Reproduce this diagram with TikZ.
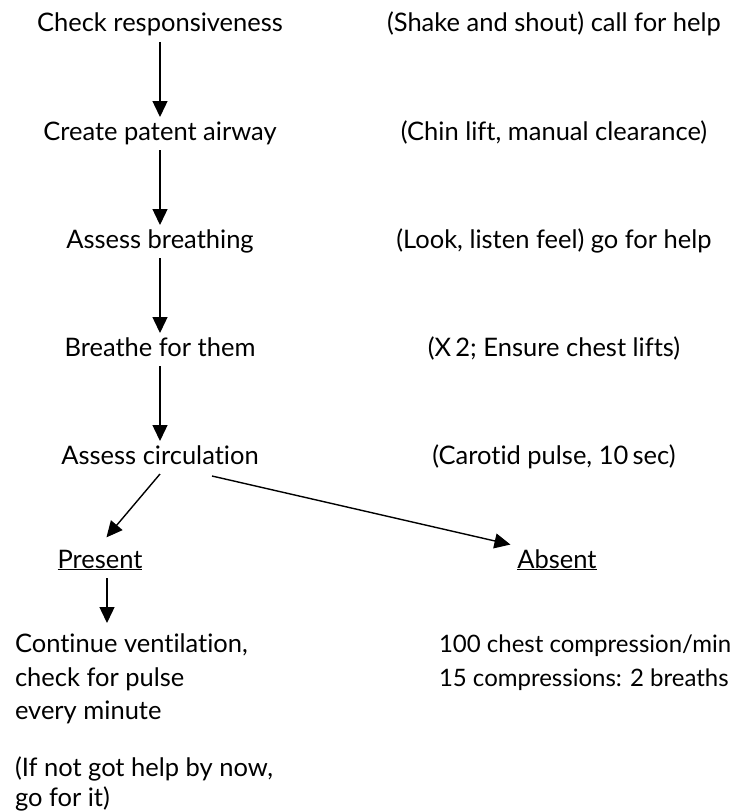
\documentclass[tikz,border=0pt]{standalone}
\usepackage{fontspec}
\setmainfont{Lato}[Ligatures=NoCommon]
\usepackage{tikz}
\usetikzlibrary{arrows.meta,calc,positioning}

\tikzset{
  steptext/.style={inner sep=0pt,outer sep=5bp,text height=18bp,text depth=5bp},
  notetext/.style={inner sep=0pt,outer sep=5bp,align=left,anchor=north west},
  flowarrow/.style={line width=1.4bp,-{Triangle[width=15bp,length=16bp]}},
}

\begin{document}
\begin{tikzpicture}[x=1bp,y=-1bp,node distance=75bp,
    font=\fontsize{25.5bp}{33.5bp}\selectfont]
  \useasboundingbox (0,0) rectangle (749,812);
  \coordinate (rcol) at (554,0);

  % main chain
  \node[steptext] (check) at (160,25.5) {Check responsiveness};
  \node[steptext,below=of check] (airway) {Create patent airway};
  \node[steptext,below=of airway] (breath) {Assess breathing};
  \node[steptext,below=of breath] (rescue) {Breathe for them};
  \node[steptext,below=of rescue] (circ) {Assess circulation};

  % notes on the right
  \node[steptext] (shake) at (check -| rcol) {(Shake and shout) call for help};
  \node[steptext] (chin) at (airway -| rcol) {(Chin lift, manual clearance)};
  \node[steptext] (look) at (breath -| rcol) {(Look, listen feel) go for help};
  \node[steptext] (twice) at (rescue -| rcol) {(X\,2; Ensure chest lifts)};
  \node[steptext] (pulse) at (circ -| rcol) {(Carotid pulse, 10\,sec)};

  % branches
  \node[steptext] (present) at (100,561.5) {\underline{Present}};
  \node[steptext] (absent) at (557,561.5) {\underline{Absent}};
  \node[notetext] (cont) at (10,629) {Continue ventilation,\\check for pulse\\every minute};
  \node[notetext,font=\fontsize{25.5bp}{30bp}\selectfont] (gohelp) at (10,752)
    {(If not got help by now,\\go for it)};
  \node[notetext,font=\fontsize{24bp}{33.5bp}\selectfont] (cpr) at (434,630)
    {100 chest compression/min\\15 compressions: 2 breaths};

  \draw[flowarrow] (check) -- (airway);
  \draw[flowarrow] (airway) -- (breath);
  \draw[flowarrow] (breath) -- (rescue);
  \draw[flowarrow] (rescue) -- (circ);
  \draw[flowarrow,shorten >=10bp] (circ.south) -- (present.north);
  \draw[flowarrow,shorten >=2bp] ([xshift=52bp,yshift=-2bp]circ.south) -- (absent.north west);
  \draw[flowarrow,shorten >=6bp] ([xshift=7bp]present.south) -- ([xshift=7bp]present.south |- cont.north);
\end{tikzpicture}
\end{document}
